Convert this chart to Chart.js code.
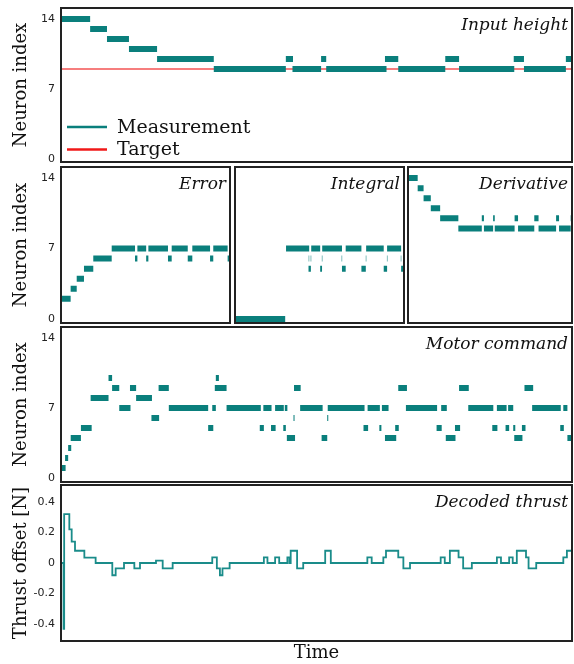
<!DOCTYPE html>
<html>
<head>
<meta charset="utf-8">
<script src="https://cdn.jsdelivr.net/npm/chart.js@4.4.1/dist/chart.umd.min.js"></script>
<style>
  body { margin: 0; background: #fff; }
  #wrap { position: relative; width: 574px; height: 664px; }
  #wrap canvas { position: absolute; left: 0; top: 0; }
</style>
</head>
<body>
<div id="wrap">
  <canvas id="cHeight" width="574" height="664"></canvas>
  <canvas id="cError" width="574" height="664"></canvas>
  <canvas id="cIntegral" width="574" height="664"></canvas>
  <canvas id="cDerivative" width="574" height="664"></canvas>
  <canvas id="cMotor" width="574" height="664"></canvas>
  <canvas id="cThrust" width="574" height="664"></canvas>
</div>
<script>
const TEAL = '#0a7f7c';
const TEAL_LINE = '#1a8c8a';
const SERIF = "'DejaVu Serif', serif";
const SANS = "'DejaVu Sans', sans-serif";

// time runs 0..100 in every panel
const neuronTicks = [0, 7, 14];
const thrustTicks = [-0.4, -0.2, 0, 0.2, 0.4];

// spikes : [start, end, neuron index]
const measurementSegs = [
  [0, 5.7, 14], [5.7, 9.0, 13], [9.0, 13.3, 12], [13.3, 18.8, 11], [18.8, 29.9, 10],
  [29.9, 44.0, 9], [44.0, 45.4, 10], [45.3, 50.9, 9], [50.9, 51.9, 10], [51.9, 63.7, 9],
  [63.4, 66.0, 10], [66.0, 75.2, 9], [75.2, 77.9, 10], [77.9, 88.7, 9], [88.6, 90.6, 10],
  [90.6, 98.8, 9], [98.8, 100, 10]
];
const targetLevel = [9, 9];

const errorSegs = [
  [0, 5.7, 2], [5.7, 9.3, 3], [9.3, 13.6, 4], [13.6, 19.1, 5], [19.1, 30.0, 6],
  [30.0, 43.8, 7], [43.8, 45.2, 6], [45.2, 50.4, 7], [50.4, 51.7, 6], [51.7, 63.3, 7],
  [63.3, 65.5, 6], [65.5, 75.0, 7], [75.0, 77.7, 6], [77.7, 88.2, 7], [88.2, 90.1, 6],
  [90.1, 98.6, 7], [98.6, 100, 6]
];

const integralSegs = [
  [0, 29.7, 0],
  [29.7, 30.0, 1], [29.7, 30.0, 2], [29.7, 30.0, 3], [29.7, 30.0, 4], [29.7, 30.0, 5], [29.7, 30.0, 6],
  [30.2, 43.9, 7], [45.1, 50.4, 7], [51.6, 63.3, 7], [65.5, 74.8, 7], [77.6, 88.0, 7], [90.0, 98.3, 7],
  [43.5, 44.9, 5], [50.4, 51.5, 5], [63.3, 65.5, 5], [74.8, 77.4, 5], [88.0, 90.0, 5], [98.3, 100, 5],
  [43.6, 43.9, 6], [44.8, 45.1, 6], [50.3, 50.6, 6], [51.4, 51.7, 6], [63.1, 63.4, 6], [65.3, 65.6, 6],
  [74.6, 74.9, 6], [77.4, 77.7, 6], [87.8, 88.1, 6], [89.9, 90.2, 6], [98.1, 98.4, 6]
];

const derivativeSegs = [
  [0, 5.9, 14], [5.9, 9.5, 13], [9.5, 13.9, 12], [13.9, 19.6, 11], [19.6, 30.7, 10],
  [30.7, 45.0, 9], [45.0, 46.3, 10], [46.3, 51.9, 9], [51.9, 52.9, 10], [52.9, 65.0, 9],
  [65.0, 67.1, 10], [67.1, 77.0, 9], [77.0, 79.6, 10], [79.6, 90.3, 9], [90.3, 92.1, 10],
  [92.1, 99.2, 9], [99.2, 100, 10]
];

const motorSegs = [
  [0, 0.9, 1], [0.8, 1.4, 2], [1.4, 2.0, 3], [1.9, 3.9, 4], [3.9, 6.0, 5], [5.8, 9.3, 8],
  [9.3, 10.0, 10], [10.0, 11.4, 9], [11.4, 13.6, 7], [13.5, 14.7, 9], [14.7, 17.8, 8],
  [17.7, 19.2, 6], [19.1, 21.1, 9], [21.1, 28.8, 7], [28.8, 29.8, 5], [29.6, 30.3, 7],
  [30.3, 30.9, 10], [30.1, 32.4, 9], [32.4, 39.1, 7], [38.9, 39.7, 5], [39.6, 41.2, 7],
  [41.1, 42.0, 5], [41.9, 43.6, 7], [43.5, 44.0, 5], [43.8, 44.3, 7], [44.2, 45.8, 4],
  [45.5, 45.7, 6], [45.6, 46.9, 9], [46.8, 51.2, 7], [51.0, 52.1, 4], [52.1, 52.3, 6],
  [52.2, 59.4, 7], [59.2, 60.1, 5], [60.0, 62.4, 7], [62.3, 62.7, 5], [62.8, 64.1, 7],
  [63.4, 65.6, 4], [65.4, 66.1, 5], [66.0, 67.7, 9], [67.5, 73.6, 7], [73.5, 74.5, 5],
  [74.4, 75.5, 7], [75.3, 77.2, 4], [77.1, 78.1, 5], [77.9, 79.8, 9], [79.7, 84.6, 7],
  [84.4, 85.4, 5], [85.3, 87.2, 7], [87.0, 87.7, 5], [87.5, 88.5, 7], [88.5, 88.9, 5],
  [88.7, 90.3, 4], [90.2, 90.9, 5], [90.7, 92.4, 9], [92.2, 97.8, 7], [97.7, 98.4, 5],
  [98.3, 99.1, 7], [99.1, 100, 4]
];

// decoded thrust : [time, value], value kept until the next time
const thrustSteps = [
  [0, 0], [0.5, -0.43], [0.62, 0.32], [1.63, 0.22], [2.09, 0.14], [2.74, 0.08], [4.57, 0.035],
  [6.78, 0], [10.04, -0.08], [10.7, -0.035], [12.33, 0], [14.35, -0.035], [15.46, 0],
  [18.59, 0.015], [19.9, -0.035], [21.85, 0], [29.6, 0.037], [30.5, -0.035], [31.1, -0.08],
  [31.6, -0.035], [33.0, 0], [39.7, 0.037], [40.4, 0], [41.9, 0.037], [42.7, 0], [44.3, 0.037],
  [44.7, 0], [44.95, 0.08], [46.2, -0.035], [47.4, 0], [51.7, 0.08], [52.8, 0], [59.95, 0.037],
  [60.8, 0], [63.08, 0.037], [63.6, 0.08], [66.0, 0.037], [67.0, -0.035], [68.3, 0],
  [74.3, 0.037], [75.1, 0], [76.1, 0.08], [77.8, 0.037], [78.7, -0.035], [80.4, 0],
  [85.3, 0.037], [86.1, 0], [87.7, 0.037], [88.4, 0], [89.2, 0.08], [91.0, 0.037],
  [91.5, -0.035], [93.0, 0], [98.3, 0.037], [99.0, 0.08], [100, 0.08]
];

const segPoints = segs => segs.flatMap(([a, b, n]) => [{x: a, y: n}, {x: b, y: n}, {x: b, y: null}]);

// frame, italic title, legend inside the plot
const panelDecor = {
  id: 'panelDecor',
  afterDraw(chart, args, o) {
    const {ctx, chartArea: a} = chart;
    ctx.save();
    ctx.strokeStyle = '#222';
    ctx.lineWidth = 2;
    ctx.strokeRect(a.left, a.top, a.right - a.left, a.bottom - a.top);
    if (o.title) {
      ctx.font = 'italic 17px ' + SERIF;
      ctx.fillStyle = '#111';
      ctx.textAlign = 'right';
      ctx.textBaseline = 'alphabetic';
      ctx.fillText(o.title, a.right - 4, a.top + 22);
    }
    if (o.legend) {
      chart.data.datasets.forEach((ds, i) => {
        const y = a.bottom - 35 + i * 22.5;
        ctx.strokeStyle = ds.legendColor || ds.borderColor;
        ctx.lineWidth = 2.5;
        ctx.beginPath();
        ctx.moveTo(a.left + 6, y);
        ctx.lineTo(a.left + 46, y);
        ctx.stroke();
        ctx.font = '19px ' + SERIF;
        ctx.fillStyle = '#111';
        ctx.textAlign = 'left';
        ctx.textBaseline = 'middle';
        ctx.fillText(ds.label, a.left + 56, y + 1);
      });
    }
    ctx.restore();
  }
};

function makePanel(id, p) {
  const showY = !!p.yTitle;
  const xAxisH = p.xTitle ? 23 : 0;
  return new Chart(document.getElementById(id), {
    type: 'line',
    data: { datasets: p.datasets },
    options: {
      responsive: false,
      animation: false,
      devicePixelRatio: 1,
      events: [],
      layout: {
        padding: {
          left: showY ? 0 : p.box.left,
          top: p.box.top,
          right: 574 - p.box.right,
          bottom: 664 - p.box.bottom - xAxisH
        }
      },
      elements: { point: { radius: 0 } },
      scales: {
        x: {
          type: 'linear', min: 0, max: 100,
          display: !!p.xTitle,
          grid: { display: false, drawTicks: false },
          border: { display: false },
          ticks: { display: false },
          title: { display: !!p.xTitle, text: p.xTitle, font: { family: SERIF, size: 18 }, color: '#111', padding: 0 },
          afterFit: s => { if (p.xTitle) { s.height = xAxisH; s.paddingLeft = 0; s.paddingRight = 0; } }
        },
        y: {
          type: 'linear', min: p.yMin, max: p.yMax,
          display: showY,
          grid: { display: false, drawTicks: false },
          border: { display: false },
          ticks: { font: { family: SANS, size: 11 }, color: '#222', padding: 6, callback: v => String(v) },
          title: { display: showY, text: p.yTitle, font: { family: SERIF, size: 18 }, color: '#111', padding: { top: 11, bottom: 0 } },
          afterBuildTicks: s => { s.ticks = p.yTicks.map(v => ({ value: v })); },
          afterFit: s => { if (showY) { s.width = p.box.left; s.paddingTop = 0; s.paddingBottom = 0; } }
        }
      },
      plugins: {
        legend: { display: false },
        tooltip: { enabled: false },
        panelDecor: { title: p.title, legend: !!p.legend }
      }
    },
    plugins: [panelDecor]
  });
}

const rasterSet = (label, segs) => ({
  label, data: segPoints(segs), borderColor: TEAL, borderWidth: 6,
  borderCapStyle: 'butt', spanGaps: false, pointRadius: 0
});

const setup = () => {
  makePanel('cHeight', {
    box: { left: 61, top: 8, right: 572, bottom: 162 },
    yMin: -0.3, yMax: 15.1, yTicks: neuronTicks, yTitle: 'Neuron index',
    title: 'Input height', legend: true,
    datasets: [
      Object.assign(rasterSet('Measurement', measurementSegs), { legendColor: TEAL }),
      { label: 'Target', data: [{ x: 0, y: targetLevel[0] }, { x: 100, y: targetLevel[1] }],
        borderColor: 'rgba(240,40,40,0.8)', legendColor: '#f01818', borderWidth: 1.5, pointRadius: 0 }
    ]
  });
  makePanel('cError', {
    box: { left: 61, top: 167, right: 230, bottom: 323 },
    yMin: -0.4, yMax: 15.1, yTicks: neuronTicks, yTitle: 'Neuron index',
    title: 'Error', datasets: [rasterSet('Error', errorSegs)]
  });
  makePanel('cIntegral', {
    box: { left: 235, top: 167, right: 404, bottom: 323 },
    yMin: -0.4, yMax: 15.1, yTicks: neuronTicks,
    title: 'Integral', datasets: [rasterSet('Integral', integralSegs)]
  });
  makePanel('cDerivative', {
    box: { left: 408, top: 167, right: 572, bottom: 323 },
    yMin: -0.4, yMax: 15.1, yTicks: neuronTicks,
    title: 'Derivative', datasets: [rasterSet('Derivative', derivativeSegs)]
  });
  makePanel('cMotor', {
    box: { left: 61, top: 327, right: 572, bottom: 482 },
    yMin: -0.4, yMax: 15.1, yTicks: neuronTicks, yTitle: 'Neuron index',
    title: 'Motor command', datasets: [rasterSet('Motor command', motorSegs)]
  });
  makePanel('cThrust', {
    box: { left: 61, top: 485, right: 572, bottom: 641 },
    yMin: -0.51, yMax: 0.51, yTicks: thrustTicks, yTitle: 'Thrust offset [N]',
    title: 'Decoded thrust', xTitle: 'Time',
    datasets: [{
      label: 'Decoded thrust', data: thrustSteps.map(([x, y]) => ({ x, y })),
      stepped: 'before', borderColor: TEAL_LINE, borderWidth: 1.8, pointRadius: 0
    }]
  });
};

window.addEventListener('DOMContentLoaded', setup);
</script>
</body>
</html>
